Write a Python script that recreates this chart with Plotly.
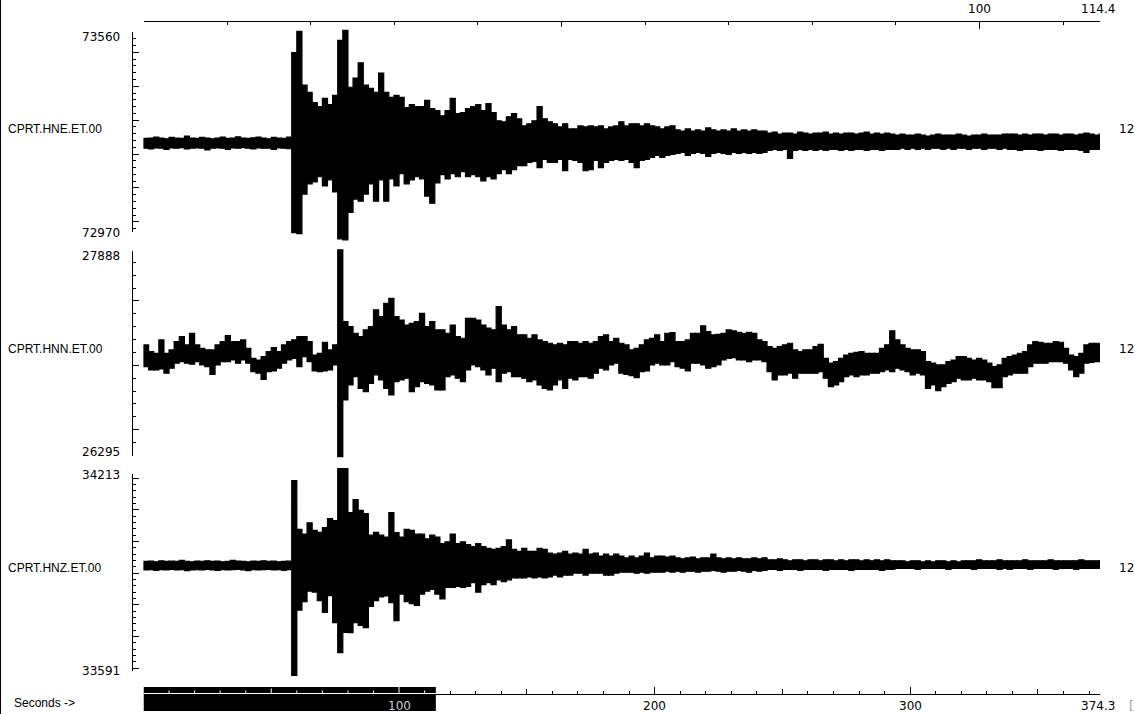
import numpy as np
import plotly.graph_objects as go

# ---------------------------------------------------------------- data
BIN_S = 2.0                  # width of each min/max envelope bin (s)
DURATION = 374.3             # record length (s)
ZOOM_WINDOW = (0.0, 114.4)   # seconds of the zoom window (top scale / black bar)

STATIONS = ["CPRT.HNE.ET.00", "CPRT.HNN.ET.00", "CPRT.HNZ.ET.00"]
GAINS = ["12", "12", "12"]
AMP_LIMITS = [(72970, 73560), (26295, 27888), (33591, 34213)]
AMP_MAJOR = [100, 500, 100]
AMP_MINOR = [20, 100, 20]

BOTTOM_MAJOR = [0, 100, 200, 300, 374.3]
BOTTOM_MID = [50, 150, 250, 350]
BOTTOM_LABELS = [100, 200, 300, 374.3]
TOP_MAJOR = [0, 100, 114.4]
TOP_MID = [50]
TOP_LABELS = [100, 114.4]

# HNE: mean level and per-bin excursions above / below it (counts)
HNE_MEAN = 73232
HNE_UP = [14, 15, 18, 15, 13, 17, 15, 14, 21, 15, 14, 17, 15, 13, 15, 18, 14, 15, 19, 15,
          14, 16, 18, 15, 13, 17, 15, 14, 18,
          267, 330, 171, 150, 120, 108, 132, 114, 141, 303,
          333, 165, 192, 237, 171, 162, 150, 207, 150, 135,
          141, 135, 105, 114, 108, 108, 126, 102, 96, 81,
          96, 132, 87, 90, 102, 108, 114, 96, 117, 90,
          66, 63, 78, 87, 72, 51, 57, 66, 108, 72,
          63, 57, 48, 57, 42, 42, 51, 48, 51, 48,
          51, 42, 48, 51, 63, 51, 57, 57, 51, 57,
          51, 48, 42, 48, 51,
          39, 36, 42, 36, 39, 36, 45, 39, 36, 39, 36, 42, 36, 39, 36, 39, 36, 36,
          30, 33, 27, 30, 30, 27, 33, 30, 27, 30, 30, 33, 27, 30, 27, 30, 30, 27, 30, 33,
          27, 30, 27, 30, 27,
          24, 27, 24, 24, 27, 24, 21, 24, 27, 24, 24, 24, 27, 24, 21, 24, 24, 27, 24, 24,
          24, 27,
          27, 27, 24, 27, 24, 27, 27, 24, 27, 27, 24, 27, 27, 24, 27, 30, 27, 24, 27]
HNE_DN = [15, 17, 14, 15, 18, 14, 15, 13, 17, 15, 14, 15, 20, 15, 14, 15, 18, 14, 15, 13,
          15, 17, 14, 15, 15, 18, 14, 15, 16,
          264, 267, 150, 120, 114, 99, 126, 108, 144, 282,
          285, 204, 165, 171, 150, 120, 171, 108, 171, 105,
          126, 90, 120, 108, 99, 105, 156, 177, 117, 93,
          105, 90, 99, 84, 99, 93, 99, 111, 99, 105,
          90, 78, 90, 78, 66, 66, 57, 54, 72, 48,
          57, 57, 48, 81, 48, 51, 57, 81, 78, 51,
          72, 57, 51, 48, 51, 48, 57, 72, 51, 48,
          42, 36, 42, 36, 33,
          30, 27, 36, 30, 27, 30, 39, 30, 27, 30, 33, 27, 30, 27, 30, 27, 30, 27,
          21, 18, 21, 18, 45, 21, 18, 21, 18, 21, 18, 21, 18, 18, 21, 18, 21, 18, 18, 21,
          18, 18, 21, 18, 18,
          18, 15, 18, 15, 18, 15, 18, 15, 15, 18, 15, 18, 15, 15, 18, 15, 15, 18, 15, 15,
          18, 15,
          18, 18, 21, 18, 18, 18, 21, 18, 18, 18, 21, 18, 18, 18, 21, 27, 18, 18, 18]

# HNN: per-bin maximum and minimum (counts)
HNN_MAX = [27158, 27106, 27093, 27197, 27093, 27119, 27184, 27223, 27158, 27249,
           27158, 27132, 27119, 27119, 27158, 27184, 27231, 27184, 27184, 27197,
           27132, 27054, 27041, 27067, 27106, 27137, 27106, 27158, 27184, 27197,
           27223, 27223, 27184, 27080, 27093, 27179, 27119, 27158, 27896, 27339,
           27300, 27249, 27223, 27275, 27300, 27430, 27378, 27482, 27521, 27378,
           27352, 27313, 27326, 27339, 27404, 27300, 27339, 27275, 27275, 27249,
           27313, 27223, 27210, 27365, 27365, 27352, 27313, 27288, 27275, 27456,
           27313, 27275, 27300, 27236, 27236, 27210, 27236, 27197, 27184, 27171,
           27158, 27171, 27158, 27184, 27184, 27171, 27184, 27171, 27184, 27223,
           27236, 27184, 27210, 27171, 27158, 27119, 27132, 27158, 27197, 27210,
           27236, 27184, 27249, 27254, 27184, 27184, 27197, 27249, 27249, 27306,
           27262, 27236, 27241, 27249, 27275, 27267, 27256, 27249, 27256, 27249,
           27197, 27184, 27145, 27132, 27145, 27158, 27171, 27119, 27106, 27119,
           27119, 27145, 27163, 27054, 27016, 27029, 27054, 27080, 27093, 27101,
           27106, 27093, 27093, 27093, 27132, 27158, 27267, 27197, 27158, 27132,
           27119, 27119, 27106, 27029, 27016, 27003, 27003, 27029, 27041, 27067,
           27067, 27054, 27041, 27054, 27041, 27016, 26990, 27003, 27054, 27067,
           27080, 27093, 27106, 27158, 27184, 27179, 27171, 27171, 27184, 27179,
           27132, 27080, 27067, 27093, 27158, 27171, 27171, 27158]
HNN_MIN = [26990, 26964, 26964, 26972, 26938, 26977, 27016, 27029, 27016, 27008,
           27029, 27003, 26990, 26930, 27003, 27029, 27029, 27041, 27016, 27041,
           27016, 26951, 26938, 26891, 26951, 26956, 26977, 27016, 27041, 27054,
           26990, 27067, 27029, 26956, 26951, 26956, 26964, 27003, 26290, 26731,
           26847, 26912, 26821, 26795, 26860, 26925, 26886, 26821, 26770, 26873,
           26886, 26899, 26795, 26834, 26873, 26860, 26847, 26808, 26808, 26912,
           26925, 26899, 26873, 26964, 27003, 26990, 26964, 26925, 26977, 26873,
           26938, 26951, 26912, 26912, 26899, 26873, 26886, 26847, 26821, 26808,
           26847, 26886, 26821, 26899, 26886, 26912, 26912, 26899, 26938, 26977,
           26964, 27003, 27016, 26938, 26930, 26920, 26904, 26951, 26956, 27003,
           27016, 27003, 27003, 27029, 26990, 26977, 26956, 27016, 27016, 27003,
           26977, 26990, 27003, 27041, 27054, 27060, 27041, 27041, 27029, 27041,
           27041, 27029, 26951, 26886, 26925, 26925, 26938, 26899, 26938, 26938,
           26938, 26938, 26951, 26899, 26834, 26847, 26873, 26912, 26925, 26912,
           26925, 26925, 26938, 26938, 26951, 26964, 26951, 26977, 26964, 26951,
           26925, 26938, 26925, 26821, 26847, 26803, 26834, 26860, 26873, 26899,
           26886, 26886, 26899, 26886, 26886, 26873, 26826, 26826, 26912, 26925,
           26938, 26938, 26938, 26990, 27016, 27016, 27016, 27029, 27029, 27029,
           27016, 26964, 26912, 26938, 27016, 27023, 27029, 27029]

# HNZ: mean level and per-bin excursions above / below it (counts)
HNZ_MEAN = 33924
HNZ_UP = [13, 14, 12, 15, 13, 14, 13, 16, 13, 12, 14, 13, 15, 13, 14, 12, 13, 16, 14, 13,
          12, 14, 13, 15, 13, 14, 12, 13, 14,
          268, 114, 99, 135, 111, 105, 120, 148, 142, 306,
          306, 167, 208, 174, 164, 96, 105, 96, 90, 167,
          104, 90, 114, 111, 99, 99, 84, 96, 90, 69,
          75, 99, 69, 75, 66, 60, 69, 60, 54, 51,
          54, 60, 81, 51, 45, 54, 45, 45, 54, 51,
          39, 36, 39, 45, 36, 39, 36, 51, 36, 39,
          30, 36, 30, 36, 30, 24, 30, 24, 30, 39,
          24, 30, 30, 27, 30,
          24, 21, 24, 27, 21, 24, 24, 36, 24, 21, 24, 21, 24, 21, 21, 24, 21, 24,
          18, 18, 21, 18, 15, 18, 18, 15, 18, 18, 15, 18, 18, 15, 18, 15, 18, 18, 15, 18,
          15, 18, 15, 18, 15,
          15, 15, 12, 15, 15, 12, 15, 12, 15, 15, 12, 15, 12, 15, 15, 15, 18, 15, 15, 15,
          18, 15, 15, 15, 15, 18, 15, 15, 15, 15, 18, 15, 15, 15, 15, 15, 18, 15, 15, 15,
          15]
HNZ_DN = [14, 13, 15, 13, 14, 12, 14, 13, 16, 14, 13, 14, 12, 14, 15, 13, 14, 13, 12, 14,
          16, 13, 14, 13, 12, 14, 13, 15, 13,
          347, 141, 114, 81, 84, 111, 148, 95, 180, 275,
          211, 212, 180, 189, 196, 129, 111, 99, 96, 117,
          174, 90, 114, 120, 126, 90, 81, 75, 90, 105,
          69, 69, 66, 69, 66, 54, 84, 60, 54, 60,
          45, 51, 45, 39, 39, 39, 36, 39, 36, 39,
          36, 30, 36, 30, 30, 24, 24, 30, 24, 24,
          24, 30, 30, 24, 21, 21, 21, 24, 21, 24,
          21, 21, 21, 18, 21,
          18, 21, 18, 18, 21, 18, 18, 15, 18, 21, 18, 18, 15, 18, 21, 15, 18, 15,
          12, 12, 15, 12, 12, 12, 15, 12, 12, 12, 12, 15, 12, 12, 12, 12, 15, 12, 12, 12,
          12, 12, 15, 12, 12,
          9, 9, 9, 9, 12, 9, 9, 9, 9, 9, 12, 9, 9, 9, 9, 12, 9, 9, 9, 9,
          12, 9, 12, 9, 9, 9, 12, 9, 9, 9, 9, 12, 9, 9, 9, 12, 9, 9, 9, 9,
          9]

# ---------------------------------------------------------------- geometry (pixels)
W, H = 1135, 714
PLOT_X = (143.5, 1100.0)
PANEL_ROWS = [(32, 232), (251, 456), (474, 671)]    # rows of the top / bottom amplitude ticks
AMP_AXIS_X = 131.5
AMP_LABEL_ROWS = [(36.5, 233), (256, 452), (474.5, 670.5)]
STATION_ROWS = [129, 348.5, 567.5]
TOP_AXIS_Y = 20.5
BOTTOM_AXIS_Y = 693.5
BAR_ROWS = (687, 711)
EXT = 14  # extra pixels so spikes may overshoot the amplitude scale


def px(x):
    return x / W


def py(y):
    return 1 - y / H


TXT = "Liberation Sans"
NUM = "DejaVu Sans"

# ---------------------------------------------------------------- traces
envelopes = [
    (HNE_MEAN + np.array(HNE_UP), HNE_MEAN - np.array(HNE_DN)),
    (np.array(HNN_MAX), np.array(HNN_MIN)),
    (HNZ_MEAN + np.array(HNZ_UP), HNZ_MEAN - np.array(HNZ_DN)),
]

fig = go.Figure()
for k, (hi, lo) in enumerate(envelopes):
    n = min(len(hi), len(lo))
    hi, lo = hi[:n], lo[:n]
    t = (np.arange(n) + 0.5) * BIN_S
    # one min-to-max column per bin, as seismogram viewers draw decimated traces
    fig.add_trace(go.Bar(
        x=t, y=hi - lo, base=lo, width=BIN_S,
        marker=dict(color="black", line=dict(color="black", width=1.2)),
        xaxis="x", yaxis="y" if k == 0 else f"y{k + 1}",
        hoverinfo="skip", showlegend=False))

# empty traces so the scale-only axes are drawn
for xa, ya in [("x2", "y4"), ("x5", "y4"), ("x", "y5"), ("x3", "y6"), ("x4", "y6")]:
    fig.add_trace(go.Scatter(x=[None], y=[None], mode="markers", xaxis=xa, yaxis=ya,
                             hoverinfo="skip", showlegend=False))

xdom = [px(PLOT_X[0]), px(PLOT_X[1])]
layout = dict(
    width=W, height=H, margin=dict(l=0, r=0, t=0, b=0),
    paper_bgcolor="white", plot_bgcolor="rgba(0,0,0,0)",
    showlegend=False, hovermode=False, barmode="overlay",
    xaxis=dict(domain=xdom, range=[0, DURATION], visible=False, anchor="y", fixedrange=True),
)

for k in range(3):
    top, bot = PANEL_ROWS[k]
    lo_v, hi_v = AMP_LIMITS[k]
    s = (hi_v - lo_v) / (bot - top)
    name = "yaxis" if k == 0 else f"yaxis{k + 1}"
    layout[name] = dict(domain=[py(bot + EXT), py(top - EXT)],
                        range=[lo_v - EXT * s, hi_v + EXT * s],
                        visible=False, anchor="x", fixedrange=True)
    majors = [lo_v] + [v for v in range((lo_v // AMP_MAJOR[k] + 1) * AMP_MAJOR[k], hi_v, AMP_MAJOR[k])] + [hi_v]
    eps = (hi_v - lo_v) * 1e-4
    layout[f"yaxis{k + 4}"] = dict(
        domain=[py(bot), py(top)], range=[lo_v - eps, hi_v + eps], anchor="free",
        position=px(AMP_AXIS_X), side="left", showline=True, linecolor="black", linewidth=1,
        ticks="inside", ticklen=6, tickwidth=1, tickcolor="black", tickmode="array",
        tickvals=majors, showticklabels=False, showgrid=False, zeroline=False, fixedrange=True,
        minor=dict(ticks="inside", ticklen=3, tickwidth=1, tickcolor="black",
                   dtick=AMP_MINOR[k], tick0=0, showgrid=False))

eps_t = 1e-4
common_x = dict(domain=xdom, anchor="free", showgrid=False, zeroline=False,
                showticklabels=False, fixedrange=True, tickmode="array",
                tickwidth=1, tickcolor="black", linecolor="black", linewidth=1)
layout["xaxis2"] = dict(common_x, range=[ZOOM_WINDOW[0] - eps_t, ZOOM_WINDOW[1] + eps_t],
                        position=py(TOP_AXIS_Y), side="top", showline=True,
                        ticks="inside", ticklen=7, tickvals=TOP_MAJOR,
                        minor=dict(ticks="inside", ticklen=3, dtick=10, tick0=0,
                                   tickcolor="black", showgrid=False))
layout["xaxis5"] = dict(common_x, range=[ZOOM_WINDOW[0] - eps_t, ZOOM_WINDOW[1] + eps_t],
                        position=py(TOP_AXIS_Y), side="top", showline=False,
                        ticks="inside", ticklen=5, tickvals=TOP_MID)
layout["xaxis3"] = dict(common_x, range=[-eps_t, DURATION + eps_t],
                        position=py(BOTTOM_AXIS_Y), side="bottom", showline=True,
                        ticks="inside", ticklen=7, tickvals=BOTTOM_MAJOR,
                        minor=dict(ticks="inside", ticklen=3, dtick=10, tick0=0,
                                   tickcolor="black", showgrid=False))
layout["xaxis4"] = dict(common_x, range=[-eps_t, DURATION + eps_t],
                        position=py(BOTTOM_AXIS_Y), side="bottom", showline=False,
                        ticks="inside", ticklen=5, tickvals=BOTTOM_MID)

# ---------------------------------------------------------------- shapes
shapes = [
    dict(type="line", xref="paper", yref="paper", x0=px(0.5), x1=px(0.5), y0=0, y1=1,
         line=dict(color="black", width=1)),
    dict(type="rect", xref="x3", yref="paper", x0=ZOOM_WINDOW[0], x1=ZOOM_WINDOW[1],
         y0=py(BAR_ROWS[1]), y1=py(BAR_ROWS[0]), fillcolor="black",
         line=dict(width=0), layer="above"),
    dict(type="line", xref="x3", yref="paper", x0=ZOOM_WINDOW[0], x1=ZOOM_WINDOW[1],
         y0=py(BOTTOM_AXIS_Y), y1=py(BOTTOM_AXIS_Y), line=dict(color="white", width=1),
         layer="above"),
]
for v in np.arange(10, ZOOM_WINDOW[1], 10):
    ln = 7 if v % 100 == 0 else (5 if v % 50 == 0 else 3)
    shapes.append(dict(type="line", xref="x3", yref="paper", x0=v, x1=v,
                       y0=py(BOTTOM_AXIS_Y), y1=py(BOTTOM_AXIS_Y - ln),
                       line=dict(color="white", width=1), layer="above"))

# ---------------------------------------------------------------- text
ann = []


def note(text, x, y, xanchor="left", xref="paper", family=TXT, color="black", size=12, xshift=0):
    ann.append(dict(text=text, x=x, y=py(y), xref=xref, yref="paper", xanchor=xanchor,
                    yanchor="middle", showarrow=False, xshift=xshift,
                    font=dict(family=family, size=size, color=color)))


for k in range(3):
    note(STATIONS[k], px(6), STATION_ROWS[k])
    note(GAINS[k], px(1117), STATION_ROWS[k], family=NUM)
    lo_v, hi_v = AMP_LIMITS[k]
    note(str(hi_v), px(122), AMP_LABEL_ROWS[k][0], xanchor="right", family=NUM)
    note(str(lo_v), px(122), AMP_LABEL_ROWS[k][1], xanchor="right", family=NUM)

for v in TOP_LABELS:
    note(f"{v:g}", v, 9.5, xanchor="center", xref="x2", family=NUM,
         xshift=-2 if v == ZOOM_WINDOW[1] else 0)
for v in BOTTOM_LABELS:
    inside_bar = ZOOM_WINDOW[0] <= v <= ZOOM_WINDOW[1]
    note(f"{v:g}", v, 706, xanchor="center", xref="x3", family=NUM,
         color="#cfcfcf" if inside_bar else "black",
         xshift=-2 if v == DURATION else 0)
note("Seconds ->", px(12), 703)
note("[", px(1127), 706, color="#a0a0a0", family=NUM)

layout["shapes"] = shapes
layout["annotations"] = ann
fig.update_layout(layout)

fig.write_html("out.html", config={"displayModeBar": False},
               post_script="document.body.style.margin='0';document.body.style.overflow='hidden';")
